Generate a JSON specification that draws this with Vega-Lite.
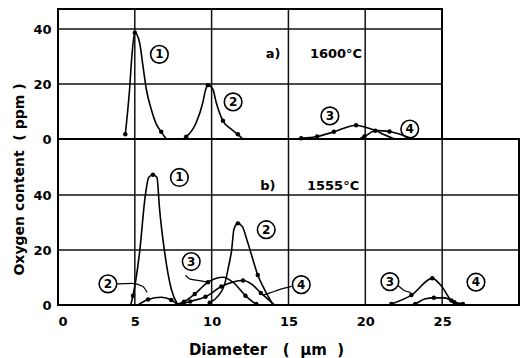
{
  "$schema": "https://vega.github.io/schema/vega-lite/v6.json",
  "padding": {"left": 10, "top": 7, "right": 0, "bottom": 0},
  "bounds": "flush",
  "spacing": 0,
  "datasets": {
    "vgrid": [
      {"panel": "a", "x": 5, "y": 0, "y2": 47.3},
      {"panel": "a", "x": 10, "y": 0, "y2": 47.3},
      {"panel": "a", "x": 15, "y": 0, "y2": 47.3},
      {"panel": "a", "x": 20, "y": 0, "y2": 47.3},
      {"panel": "b", "x": 5, "y": 0, "y2": 60.4},
      {"panel": "b", "x": 10, "y": 0, "y2": 60.4},
      {"panel": "b", "x": 15, "y": 0, "y2": 60.4},
      {"panel": "b", "x": 20, "y": 0, "y2": 60.4},
      {"panel": "b", "x": 25, "y": 0, "y2": 60.4}
    ],
    "hgrid": [
      {"panel": "a", "x": 0, "x2": 25, "y": 20},
      {"panel": "a", "x": 0, "x2": 25, "y": 40},
      {"panel": "b", "x": 0, "x2": 30, "y": 20},
      {"panel": "b", "x": 0, "x2": 30, "y": 40}
    ],
    "curves": [
      {"panel": "a", "s": "1", "x": 4.38, "y": 1.7, "dot": 1},
      {"panel": "a", "s": "1", "x": 4.66, "y": 18.1, "dot": 0},
      {"panel": "a", "s": "1", "x": 4.81, "y": 30.2, "dot": 0},
      {"panel": "a", "s": "1", "x": 5.0, "y": 38.7, "dot": 1},
      {"panel": "a", "s": "1", "x": 5.31, "y": 35.1, "dot": 0},
      {"panel": "a", "s": "1", "x": 5.53, "y": 26.6, "dot": 0},
      {"panel": "a", "s": "1", "x": 5.75, "y": 18.1, "dot": 0},
      {"panel": "a", "s": "1", "x": 6.07, "y": 10.8, "dot": 0},
      {"panel": "a", "s": "1", "x": 6.4, "y": 5.4, "dot": 0},
      {"panel": "a", "s": "1", "x": 6.72, "y": 2.6, "dot": 1},
      {"panel": "a", "s": "1", "x": 7.05, "y": 0, "dot": 0},
      {"panel": "a", "s": "2", "x": 8.13, "y": 0, "dot": 0},
      {"panel": "a", "s": "2", "x": 8.35, "y": 0.8, "dot": 1},
      {"panel": "a", "s": "2", "x": 9.0, "y": 6.0, "dot": 0},
      {"panel": "a", "s": "2", "x": 9.43, "y": 13.3, "dot": 0},
      {"panel": "a", "s": "2", "x": 9.59, "y": 17.5, "dot": 0},
      {"panel": "a", "s": "2", "x": 9.76, "y": 19.6, "dot": 1},
      {"panel": "a", "s": "2", "x": 10.08, "y": 18.1, "dot": 0},
      {"panel": "a", "s": "2", "x": 10.3, "y": 13.3, "dot": 0},
      {"panel": "a", "s": "2", "x": 10.74, "y": 6.6, "dot": 1},
      {"panel": "a", "s": "2", "x": 11.28, "y": 3.6, "dot": 0},
      {"panel": "a", "s": "2", "x": 11.71, "y": 1.7, "dot": 1},
      {"panel": "a", "s": "2", "x": 12.04, "y": 0, "dot": 0},
      {"panel": "a", "s": "3", "x": 15.83, "y": 0.3, "dot": 1},
      {"panel": "a", "s": "3", "x": 16.87, "y": 0.9, "dot": 1},
      {"panel": "a", "s": "3", "x": 17.96, "y": 2.6, "dot": 1},
      {"panel": "a", "s": "3", "x": 19.41, "y": 5.0, "dot": 1},
      {"panel": "a", "s": "3", "x": 20.65, "y": 3.2, "dot": 0},
      {"panel": "a", "s": "3", "x": 21.58, "y": 2.7, "dot": 1},
      {"panel": "a", "s": "3", "x": 23.1, "y": 0, "dot": 0},
      {"panel": "a", "s": "4", "x": 19.6, "y": 0, "dot": 0},
      {"panel": "a", "s": "4", "x": 19.95, "y": 0.9, "dot": 1},
      {"panel": "a", "s": "4", "x": 20.65, "y": 3.0, "dot": 1},
      {"panel": "a", "s": "4", "x": 21.2, "y": 1.6, "dot": 0},
      {"panel": "a", "s": "4", "x": 21.9, "y": 0, "dot": 0},
      {"panel": "b", "s": "1", "x": 4.73, "y": 0, "dot": 0},
      {"panel": "b", "s": "1", "x": 4.88, "y": 3.4, "dot": 1},
      {"panel": "b", "s": "1", "x": 5.31, "y": 19.2, "dot": 0},
      {"panel": "b", "s": "1", "x": 5.68, "y": 39.8, "dot": 0},
      {"panel": "b", "s": "1", "x": 5.9, "y": 46.4, "dot": 0},
      {"panel": "b", "s": "1", "x": 6.18, "y": 47.4, "dot": 1},
      {"panel": "b", "s": "1", "x": 6.44, "y": 46.4, "dot": 0},
      {"panel": "b", "s": "1", "x": 6.61, "y": 34.9, "dot": 0},
      {"panel": "b", "s": "1", "x": 6.94, "y": 19.2, "dot": 0},
      {"panel": "b", "s": "1", "x": 7.37, "y": 5.8, "dot": 0},
      {"panel": "b", "s": "1", "x": 7.8, "y": 0, "dot": 0},
      {"panel": "b", "s": "2", "x": 9.87, "y": 0.8, "dot": 1},
      {"panel": "b", "s": "2", "x": 10.45, "y": 3.5, "dot": 0},
      {"panel": "b", "s": "2", "x": 10.84, "y": 7.5, "dot": 0},
      {"panel": "b", "s": "2", "x": 11.1, "y": 14, "dot": 0},
      {"panel": "b", "s": "2", "x": 11.3, "y": 20, "dot": 0},
      {"panel": "b", "s": "2", "x": 11.45, "y": 27.6, "dot": 0},
      {"panel": "b", "s": "2", "x": 11.71, "y": 29.7, "dot": 1},
      {"panel": "b", "s": "2", "x": 12.0, "y": 28.5, "dot": 0},
      {"panel": "b", "s": "2", "x": 12.25, "y": 24.5, "dot": 0},
      {"panel": "b", "s": "2", "x": 12.58, "y": 18.5, "dot": 0},
      {"panel": "b", "s": "2", "x": 13.0, "y": 10.9, "dot": 1},
      {"panel": "b", "s": "2", "x": 13.45, "y": 5.5, "dot": 0},
      {"panel": "b", "s": "2", "x": 14.0, "y": 0, "dot": 0},
      {"panel": "b", "s": "2s", "x": 5.2, "y": 0, "dot": 0},
      {"panel": "b", "s": "2s", "x": 5.86, "y": 2.0, "dot": 1},
      {"panel": "b", "s": "2s", "x": 6.73, "y": 2.8, "dot": 0},
      {"panel": "b", "s": "2s", "x": 7.37, "y": 1.8, "dot": 1},
      {"panel": "b", "s": "2s", "x": 7.8, "y": 0, "dot": 0},
      {"panel": "b", "s": "3", "x": 7.6, "y": 0, "dot": 0},
      {"panel": "b", "s": "3", "x": 8.2, "y": 1.2, "dot": 1},
      {"panel": "b", "s": "3", "x": 8.9, "y": 4.0, "dot": 1},
      {"panel": "b", "s": "3", "x": 9.76, "y": 8.3, "dot": 1},
      {"panel": "b", "s": "3", "x": 10.74, "y": 10.1, "dot": 0},
      {"panel": "b", "s": "3", "x": 11.4, "y": 8.2, "dot": 0},
      {"panel": "b", "s": "3", "x": 12.2, "y": 3.4, "dot": 1},
      {"panel": "b", "s": "3", "x": 12.9, "y": 0.4, "dot": 1},
      {"panel": "b", "s": "3", "x": 13.2, "y": 0, "dot": 0},
      {"panel": "b", "s": "4", "x": 7.8, "y": 0, "dot": 0},
      {"panel": "b", "s": "4", "x": 8.6, "y": 1.3, "dot": 1},
      {"panel": "b", "s": "4", "x": 9.6, "y": 3.0, "dot": 1},
      {"panel": "b", "s": "4", "x": 10.63, "y": 6.7, "dot": 1},
      {"panel": "b", "s": "4", "x": 11.4, "y": 8.4, "dot": 0},
      {"panel": "b", "s": "4", "x": 12.04, "y": 8.9, "dot": 1},
      {"panel": "b", "s": "4", "x": 12.6, "y": 7.6, "dot": 0},
      {"panel": "b", "s": "4", "x": 13.2, "y": 4.4, "dot": 1},
      {"panel": "b", "s": "4", "x": 14.1, "y": 0, "dot": 0},
      {"panel": "b", "s": "3r", "x": 21.7, "y": 0.4, "dot": 1},
      {"panel": "b", "s": "3r", "x": 23.0, "y": 3.6, "dot": 1},
      {"panel": "b", "s": "3r", "x": 24.36, "y": 9.7, "dot": 1},
      {"panel": "b", "s": "3r", "x": 24.94, "y": 7.0, "dot": 0},
      {"panel": "b", "s": "3r", "x": 25.6, "y": 1.6, "dot": 1},
      {"panel": "b", "s": "3r", "x": 26.2, "y": 0, "dot": 0},
      {"panel": "b", "s": "4r", "x": 22.9, "y": 0, "dot": 0},
      {"panel": "b", "s": "4r", "x": 23.25, "y": 0.4, "dot": 1},
      {"panel": "b", "s": "4r", "x": 23.85, "y": 2.2, "dot": 0},
      {"panel": "b", "s": "4r", "x": 24.46, "y": 2.6, "dot": 1},
      {"panel": "b", "s": "4r", "x": 25.16, "y": 2.6, "dot": 0},
      {"panel": "b", "s": "4r", "x": 25.8, "y": 1.0, "dot": 1},
      {"panel": "b", "s": "4r", "x": 26.35, "y": 0.4, "dot": 1}
    ],
    "labels": [
      {"panel": "a", "n": "1", "x": 6.6, "y": 30.8},
      {"panel": "a", "n": "2", "x": 11.4, "y": 13.5},
      {"panel": "a", "n": "3", "x": 17.7, "y": 8.4},
      {"panel": "a", "n": "4", "x": 22.9, "y": 3.6},
      {"panel": "b", "n": "1", "x": 7.9, "y": 46.4},
      {"panel": "b", "n": "2", "x": 13.55, "y": 27.4},
      {"panel": "b", "n": "3", "x": 8.67, "y": 15.8},
      {"panel": "b", "n": "2", "x": 3.25, "y": 7.7},
      {"panel": "b", "n": "4", "x": 15.83, "y": 7.4},
      {"panel": "b", "n": "3", "x": 21.6, "y": 8.5},
      {"panel": "b", "n": "4", "x": 27.2, "y": 8.3}
    ],
    "notes": [
      {"panel": "a", "t": "a)", "x": 14.0, "y": 30.8},
      {"panel": "a", "t": "1600°C", "x": 18.1, "y": 30.8},
      {"panel": "b", "t": "b)", "x": 13.66, "y": 43.4},
      {"panel": "b", "t": "1555°C", "x": 17.9, "y": 43.4}
    ],
    "leaders": [
      {"id": "L2", "x": 3.85, "y": 7.7},
      {"id": "L2", "x": 4.8, "y": 7.9},
      {"id": "L2", "x": 5.5, "y": 6.8},
      {"id": "L2", "x": 5.8, "y": 4.6},
      {"id": "L3", "x": 8.3, "y": 10.9},
      {"id": "L3", "x": 8.6, "y": 9.4},
      {"id": "L3", "x": 9.2, "y": 8.9},
      {"id": "L3", "x": 9.65, "y": 8.4},
      {"id": "L4", "x": 15.2, "y": 6.8},
      {"id": "L4", "x": 14.4, "y": 5.6},
      {"id": "L4", "x": 13.8, "y": 4.4},
      {"id": "L4", "x": 13.3, "y": 3.6},
      {"id": "L3r", "x": 22.15, "y": 7.0},
      {"id": "L3r", "x": 22.5, "y": 5.4},
      {"id": "L3r", "x": 22.95, "y": 4.6}
    ]
  },
  "vconcat": [
    {
      "width": 384,
      "height": 130,
      "encoding": {
        "x": {"field": "x", "type": "quantitative", "scale": {"domain": [0, 25], "nice": false},
              "axis": {"values": [5, 10, 15, 20], "labels": false, "title": null}},
        "y": {"field": "y", "type": "quantitative", "scale": {"domain": [0, 47.3], "nice": false},
              "axis": {"values": [0, 20, 40], "labelPadding": 7, "title": null}}
      },
      "layer": [
        {
          "data": {"name": "vgrid"},
          "transform": [{"filter": "datum.panel === 'a'"}],
          "mark": {"type": "rule", "color": "#111111", "strokeWidth": 1.5, "opacity": 1},
          "encoding": {"y2": {"field": "y2"}}
        },
        {
          "data": {"name": "hgrid"},
          "transform": [{"filter": "datum.panel === 'a'"}],
          "mark": {"type": "rule", "color": "#111111", "strokeWidth": 1.5, "opacity": 1},
          "encoding": {"x2": {"field": "x2"}}
        },
        {
          "data": {"name": "curves"},
          "transform": [{"filter": "datum.panel === 'a'"}],
          "mark": {"type": "line", "interpolate": "monotone", "color": "black", "strokeWidth": 1.6},
          "encoding": {"detail": {"field": "s"}}
        },
        {
          "data": {"name": "curves"},
          "transform": [{"filter": "datum.panel === 'a' && datum.dot === 1"}],
          "mark": {"type": "circle", "color": "black", "size": 20, "opacity": 1}
        },
        {
          "data": {"name": "labels"},
          "transform": [{"filter": "datum.panel === 'a'"}],
          "mark": {"type": "point", "shape": "circle", "size": 310, "filled": false, "stroke": "black", "strokeWidth": 1.6, "opacity": 1}
        },
        {
          "data": {"name": "labels"},
          "transform": [{"filter": "datum.panel === 'a'"}],
          "mark": {"type": "text", "fontSize": 12, "fontWeight": "bold", "font": "DejaVu Sans", "color": "black", "baseline": "middle", "align": "center"},
          "encoding": {"text": {"field": "n"}}
        },
        {
          "data": {"name": "notes"},
          "transform": [{"filter": "datum.panel === 'a'"}],
          "mark": {"type": "text", "fontSize": 13, "fontWeight": "bold", "font": "DejaVu Sans", "color": "black", "baseline": "middle", "align": "center"},
          "encoding": {"text": {"field": "t"}}
        }
      ]
    },
    {
      "width": 461,
      "height": 166,
      "encoding": {
        "x": {"field": "x", "type": "quantitative", "scale": {"domain": [0, 30], "nice": false},
              "axis": {"values": [0, 5, 10, 15, 20, 25], "labelPadding": 10, "title": "Diameter\u00a0\u00a0\u00a0(\u00a0\u00a0μm\u00a0\u00a0)",
                       "titleFontSize": 15, "titleX": 208, "titleY": 44, "titleBaseline": "middle", "titleAlign": "center"}},
        "y": {"field": "y", "type": "quantitative", "scale": {"domain": [0, 60.4], "nice": false},
              "axis": {"values": [0, 20, 40], "labelPadding": 7, "title": "Oxygen content\u00a0\u00a0(\u00a0ppm\u00a0)",
                       "titleX": -39, "titleY": 40, "titleBaseline": "middle", "titleAlign": "center", "titleAngle": -90}}
      },
      "layer": [
        {
          "data": {"name": "vgrid"},
          "transform": [{"filter": "datum.panel === 'b'"}],
          "mark": {"type": "rule", "color": "#111111", "strokeWidth": 1.5, "opacity": 1},
          "encoding": {"y2": {"field": "y2"}}
        },
        {
          "data": {"name": "hgrid"},
          "transform": [{"filter": "datum.panel === 'b'"}],
          "mark": {"type": "rule", "color": "#111111", "strokeWidth": 1.5, "opacity": 1},
          "encoding": {"x2": {"field": "x2"}}
        },
        {
          "data": {"name": "curves"},
          "transform": [{"filter": "datum.panel === 'b'"}],
          "mark": {"type": "line", "interpolate": "monotone", "color": "black", "strokeWidth": 1.6},
          "encoding": {"detail": {"field": "s"}}
        },
        {
          "data": {"name": "curves"},
          "transform": [{"filter": "datum.panel === 'b' && datum.dot === 1"}],
          "mark": {"type": "circle", "color": "black", "size": 20, "opacity": 1}
        },
        {
          "data": {"name": "leaders"},
          "mark": {"type": "line", "interpolate": "monotone", "color": "black", "strokeWidth": 1.2},
          "encoding": {"detail": {"field": "id"}}
        },
        {
          "data": {"name": "labels"},
          "transform": [{"filter": "datum.panel === 'b'"}],
          "mark": {"type": "point", "shape": "circle", "size": 310, "filled": false, "stroke": "black", "strokeWidth": 1.6, "opacity": 1}
        },
        {
          "data": {"name": "labels"},
          "transform": [{"filter": "datum.panel === 'b'"}],
          "mark": {"type": "text", "fontSize": 12, "fontWeight": "bold", "font": "DejaVu Sans", "color": "black", "baseline": "middle", "align": "center"},
          "encoding": {"text": {"field": "n"}}
        },
        {
          "data": {"name": "notes"},
          "transform": [{"filter": "datum.panel === 'b'"}],
          "mark": {"type": "text", "fontSize": 13, "fontWeight": "bold", "font": "DejaVu Sans", "color": "black", "baseline": "middle", "align": "center"},
          "encoding": {"text": {"field": "t"}}
        }
      ]
    }
  ],
  "config": {
    "font": "DejaVu Sans",
    "view": {"stroke": "black", "strokeWidth": 2},
    "axis": {
      "grid": false,
      "domain": false, "ticks": false,
      "labelFont": "DejaVu Sans", "labelFontSize": 13, "labelFontWeight": "bold", "labelColor": "black",
      "titleFont": "DejaVu Sans", "titleFontSize": 14, "titleFontWeight": "bold", "titleColor": "black"
    }
  }
}
